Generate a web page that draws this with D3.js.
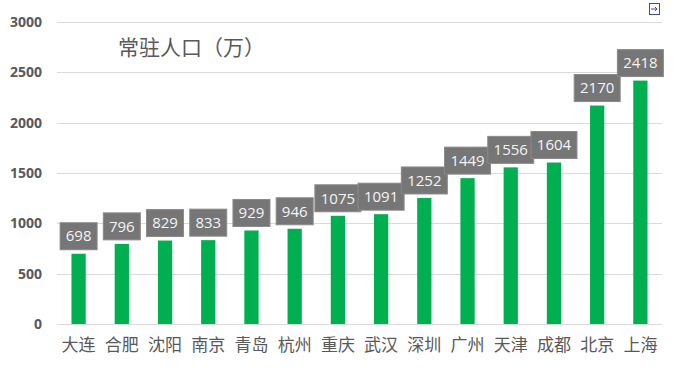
<!DOCTYPE html>
<html>
<head>
<meta charset="utf-8">
<script src="https://cdn.jsdelivr.net/npm/d3@7"></script>
<style>
  body { margin: 0; background: #fff; }
  svg { display: block; }
</style>
</head>
<body>
<div id="chart"></div>
<script>
// city names and resident population (10k)
var cities = ["大连", "合肥", "沈阳", "南京", "青岛", "杭州", "重庆", "武汉", "深圳", "广州", "天津", "成都", "北京", "上海"];
var population = [698, 796, 829, 833, 929, 946, 1075, 1091, 1252, 1449, 1556, 1604, 2170, 2418];
var yTicks = [0, 500, 1000, 1500, 2000, 2500, 3000];
var title = "常驻人口（万）";

var width = 674, height = 382;
var margin = { top: 22, right: 12, bottom: 58, left: 57 };

var svg = d3.select("#chart").append("svg")
    .attr("width", width)
    .attr("height", height);

var x = d3.scaleBand()
    .domain(cities)
    .range([margin.left, width - margin.right])
    .paddingInner(0.67)
    .paddingOuter(0.335);

var y = d3.scaleLinear()
    .domain([0, 3000])
    .range([height - margin.bottom, margin.top]);

// gridlines
svg.append("g")
    .selectAll("line")
    .data(yTicks)
    .join("line")
    .attr("x1", margin.left)
    .attr("x2", width - margin.right)
    .attr("y1", function (d) { return Math.round(y(d)) + 0.5; })
    .attr("y2", function (d) { return Math.round(y(d)) + 0.5; })
    .attr("stroke", "#d9d9d9")
    .attr("stroke-width", 1);

// y axis labels
var yAxis = d3.axisLeft(y).tickValues(yTicks).tickFormat(d3.format("d")).tickSize(0).tickPadding(15);
svg.append("g")
    .attr("transform", "translate(" + margin.left + ",0)")
    .call(yAxis)
    .call(function (g) { g.select(".domain").remove(); })
    .selectAll("text")
    .attr("font-family", "'Open Sans', sans-serif")
    .attr("font-weight", "bold")
    .attr("font-size", "14px")
    .attr("fill", "#595959");

// x axis labels
var xAxis = d3.axisBottom(x).tickSize(0).tickPadding(15);
svg.append("g")
    .attr("transform", "translate(0," + y(0) + ")")
    .call(xAxis)
    .call(function (g) { g.select(".domain").remove(); })
    .selectAll("text")
    .attr("font-family", "'Noto Sans CJK SC', sans-serif")
    .attr("font-size", "17px")
    .attr("fill", "#595959");

// bars
svg.append("g")
    .selectAll("rect")
    .data(population)
    .join("rect")
    .attr("x", function (d, i) { return x(cities[i]); })
    .attr("y", function (d) { return y(d); })
    .attr("width", x.bandwidth())
    .attr("height", function (d) { return y(0) - y(d); })
    .attr("fill", "#00b050");

// value label boxes
var labels = svg.append("g")
    .selectAll("g")
    .data(population)
    .join("g")
    .attr("transform", function (d, i) {
        return "translate(" + (x(cities[i]) + x.bandwidth() / 2) + "," + (y(d) - 4) + ")";
    });

labels.append("rect")
    .attr("x", function (d) { return String(d).length > 3 ? -23 : -18.5; })
    .attr("y", -27)
    .attr("width", function (d) { return String(d).length > 3 ? 46 : 37; })
    .attr("height", 27)
    .attr("fill", "#767676")
    .attr("stroke", "#8a8a8a")
    .attr("stroke-width", 1);

labels.append("text")
    .attr("x", 0)
    .attr("y", -13.5)
    .attr("dy", "0.35em")
    .attr("text-anchor", "middle")
    .attr("font-family", "'Open Sans', sans-serif")
    .attr("font-size", "15px")
    .attr("fill", "#f4f4f4")
    .text(function (d) { return d; });

// chart title
svg.append("text")
    .attr("x", 118)
    .attr("y", 48)
    .attr("dy", "0.35em")
    .attr("font-family", "'Noto Sans CJK SC', sans-serif")
    .attr("font-size", "21px")
    .attr("fill", "#595959")
    .text(title);

// little export icon in the corner
var icon = svg.append("g").attr("transform", "translate(649,3)");
icon.append("rect")
    .attr("x", 0.5).attr("y", 0.5)
    .attr("width", 10).attr("height", 11)
    .attr("fill", "none")
    .attr("stroke", "#3b4f9a");
icon.append("path")
    .attr("d", "M2,6 H8 M6,4 L8,6 L6,8")
    .attr("fill", "none")
    .attr("stroke", "#3b4f9a");
</script>
</body>
</html>
